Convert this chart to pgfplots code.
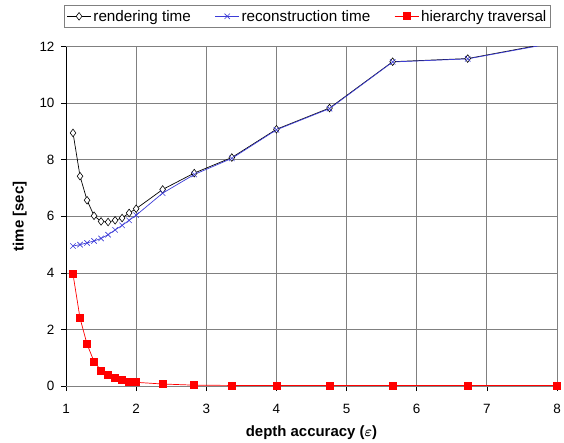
\documentclass[border=0pt]{standalone}
\usepackage{pgfplots}
\pgfplotsset{compat=1.18}
\usepackage{fontspec}
\setmainfont{Liberation Sans}
\definecolor{gridgray}{RGB}{128,128,128}
\definecolor{myblue}{RGB}{60,60,215}
\definecolor{myred}{RGB}{255,0,0}
\begin{document}
\begin{tikzpicture}
\path[use as bounding box] (-66bp,-57bp) rectangle (498bp,386bp);
\begin{axis}[
  at={(0,0)}, anchor=south west,
  scale only axis,
  width=491bp, height=339.3bp,
  xmin=1, xmax=8, ymin=0, ymax=12,
  xtick={1,2,...,8}, ytick={0,2,...,12},
  grid=major,
  major grid style={gridgray, line width=0.8pt},
  axis line style={gridgray, line width=0.8pt},
  tick style={black, line width=0.6pt},
  tick align=outside,
  major tick length=5bp,
  xtick pos=bottom, ytick pos=left,
  /pgf/number format/assume math mode=true,
  ticklabel style={font=\fontsize{13.5}{15}\selectfont},
  xticklabel style={yshift=-10bp},
  yticklabel style={xshift=-3bp},
  xlabel={\textbf{depth accuracy (\boldmath$\varepsilon$)}},
  ylabel={\textbf{time [sec]}},
  label style={font=\fontsize{15}{17}\selectfont},
  xlabel style={yshift=-5bp},
  ylabel style={yshift=6bp},
  legend columns=3,
  legend style={at={(0.492,1.0895)}, anchor=center, draw=gridgray, line width=0.8pt,
    font=\fontsize{15.3}{17}\selectfont, inner xsep=2bp, inner ysep=3bp,
    /tikz/every even column/.append style={column sep=22bp},
    nodes={inner xsep=2bp}},
  legend image code/.code={\draw[#1] (0bp,0bp) -- (24bp,0bp); \draw[#1, mark repeat=1] plot coordinates {(12bp,0bp)};},
]
\addplot[black, line width=0.7pt, mark=diamond*, mark options={fill=white, solid, line width=0.6pt}, mark size=3.8bp] coordinates {
(1.1,8.95) (1.2,7.42) (1.3,6.57) (1.4,6.02) (1.5,5.82) (1.6,5.80) (1.7,5.86) (1.8,5.94) (1.9,6.12) (2.0,6.27)
(2.378,6.95) (2.828,7.53) (3.364,8.08) (4.0,9.08) (4.757,9.83) (5.657,11.47) (6.727,11.58) (8.0,12.17)
};
\addlegendentry{rendering time}
\addplot[myblue, line width=0.7pt, mark=x, mark options={solid, line width=0.6pt}, mark size=3.8bp] coordinates {
(1.1,4.95) (1.2,5.00) (1.3,5.06) (1.4,5.13) (1.5,5.22) (1.6,5.35) (1.7,5.52) (1.8,5.68) (1.9,5.86) (2.0,6.04)
(2.378,6.82) (2.828,7.48) (3.364,8.05) (4.0,9.06) (4.757,9.81) (5.657,11.46) (6.727,11.57) (8.0,12.15)
};
\addlegendentry{reconstruction time}
\addplot[myred, line width=0.7pt, mark=square*, mark options={solid, fill=myred}, mark size=3.5bp] coordinates {
(1.1,3.95) (1.2,2.40) (1.3,1.48) (1.4,0.86) (1.5,0.55) (1.6,0.40) (1.7,0.28) (1.8,0.21) (1.9,0.16) (2.0,0.13)
(2.378,0.07) (2.828,0.03) (3.364,0.02) (4.0,0.02) (4.757,0.02) (5.657,0.02) (6.727,0.02) (8.0,0.02)
};
\addlegendentry{hierarchy traversal}
\draw[black, line width=0.9pt] (axis cs:1,0) -- (axis cs:1,12);
\draw[black, line width=0.9pt] (axis cs:1,0) -- (axis cs:8,0);
\end{axis}
\end{tikzpicture}
\end{document}
